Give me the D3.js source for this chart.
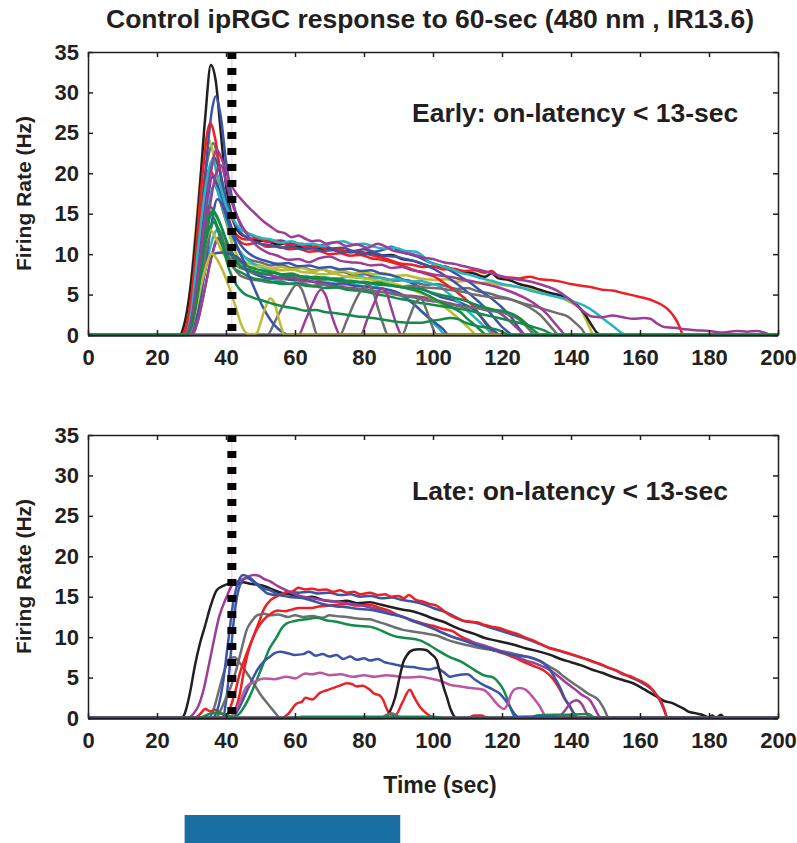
<!DOCTYPE html>
<html>
<head>
<meta charset="utf-8">
<script src="https://cdn.jsdelivr.net/npm/d3@7"></script>
<style>
  body { margin: 0; background: #fff; }
  svg { display: block; font-family: "Liberation Sans", Arial, sans-serif; font-weight: bold; }
  .axis path, .axis line { stroke: #231f20; stroke-width: 1.5; }
  .axis text { font-size: 22px; font-weight: bold; fill: #231f20; }
</style>
</head>
<body>
<div id="chart"></div>
<script>
// ---- data (time in s, firing rate in Hz) ----
const xTicks = [0, 20, 40, 60, 80, 100, 120, 140, 160, 180, 200];
const yTicks = [0, 5, 10, 15, 20, 25, 30, 35];
const dotTime = 41.7;            // dashed marker
const stimulus = [28, 90.5];     // blue light bar

// early cells (top panel)
const e01 = [[0,0],[26.5,0],[28,1.5],[30,7],[32,16],[34,27],[35.6,33.4],[37,31.5],[38.5,25],[40,18.5],[42,14.2],[44,12.6],[46,12.1],[49,11.7],[52,11.6],[55,11.2],[58,11.4],[61,10.9],[64,11.0],[67,10.6],[70,10.7],[73,10.3],[76,10.4],[79,10.1],[82,10.2],[85,9.8],[88,9.9],[91,9.4],[94,9.2],[97,8.8],[100,8.4],[103,8.5],[106,8.1],[109,7.8],[112,7.6],[115,7.2],[117,7.6],[119,7.0],[122,6.8],[125,6.3],[128,6.0],[131,5.6],[134,5.2],[137,4.9],[140,4.3],[142,3.6],[144,2.6],[146,1.2],[147.5,0.3],[148.5,0],[200,0]];
const e02 = [[0,0],[28,0],[30,2.5],[32,10],[34,20],[36,28],[37,29.5],[38.5,27],[40,21.5],[42,16.5],[44,13.8],[47,12.4],[50,12.0],[53,11.6],[56,11.7],[59,11.2],[62,11.3],[65,10.9],[68,11.1],[71,10.7],[74,10.8],[77,10.4],[80,10.6],[83,10.3],[86,10.6],[88,10.9],[90,10.4],[93,10.0],[96,9.6],[99,9.0],[102,8.6],[105,8.0],[108,7.2],[111,6.4],[114,5.4],[117,4.5],[120,3.4],[123,2.0],[125,0.8],[127,0],[200,0]];
const e03 = [[0,0],[27,0],[29,2],[31,9],[33,19],[35.4,26.2],[37,24],[39,18],[41,14],[43,12.4],[46,11.8],[49,12.0],[52,11.5],[55,11.6],[58,11.1],[61,11.2],[64,10.8],[67,10.9],[70,10.5],[73,10.6],[76,10.2],[79,10.3],[82,9.9],[85,9.6],[88,9.2],[91,8.8],[94,8.7],[97,8.4],[100,8.5],[103,8.1],[106,8.2],[109,7.9],[112,8.0],[115,7.7],[117,7.9],[119,7.3],[122,7.1],[125,7.0],[128,7.2],[131,6.9],[134,6.8],[137,6.6],[140,6.3],[143,6.1],[146,5.9],[149,5.6],[152,5.5],[155,5.2],[158,4.9],[161,4.6],[164,4.2],[166,3.8],[168,3.2],[170,2.2],[171.5,1.0],[172.5,0],[200,0]];
const e04 = [[0,0],[27,0],[29,3],[31,12],[33,21],[34.4,24.5],[36,23],[38,18],[40,14],[42,11],[44,9.4],[47,8.8],[50,8.6],[53,8.2],[56,8.4],[59,8.1],[62,8.3],[65,7.9],[68,8.1],[71,7.8],[74,7.9],[77,7.6],[80,7.8],[83,7.5],[86,7.6],[89,7.3],[92,7.4],[95,7.1],[98,6.9],[101,6.8],[104,6.9],[107,6.6],[110,6.7],[113,6.4],[116,6.5],[119,6.2],[122,6.1],[125,5.9],[128,5.7],[131,5.4],[134,5.1],[137,4.6],[140,4.0],[142.5,3.3],[144,2.2],[145.5,0.8],[146.5,0],[200,0]];
const e05 = [[0,0],[28,0],[30,4],[32,13],[34,20],[36.3,23.7],[38,21],[40,16],[42,12.5],[44,10.2],[47,9.3],[50,9.0],[53,8.6],[56,8.7],[59,8.3],[62,8.4],[65,8.0],[68,8.1],[71,7.7],[74,7.8],[77,7.4],[80,7.5],[83,7.2],[86,7.0],[89,6.7],[92,6.8],[95,6.5],[98,6.2],[101,6.3],[104,6.0],[107,5.7],[110,5.8],[113,5.4],[116,5.2],[119,4.8],[122,4.5],[125,4.0],[128,3.4],[131,2.5],[133,1.6],[135,0.6],[136.5,0],[200,0]];
const e06 = [[0,0],[28,0],[30,2],[32,8],[34,15],[36,21],[37.3,22.9],[39,21.5],[41,19],[43,17.5],[45,16.5],[47,15.6],[49,14.8],[51,14.0],[53,13.4],[55,12.8],[57,12.6],[59,12.1],[61,12.3],[63,11.9],[65,11.6],[67,11.7],[69,11.3],[72,11.5],[75,11.0],[78,11.2],[81,10.8],[84,11.3],[86,11.0],[88,10.5],[91,10.2],[94,10.0],[97,9.6],[100,9.4],[103,9.0],[106,8.8],[109,8.5],[112,8.2],[115,7.9],[118,7.5],[121,7.1],[124,6.9],[127,6.7],[130,6.4],[133,6.0],[136,5.5],[139,4.6],[142,3.5],[144,2.8],[146,2.3],[149,2.2],[152,2.4],[155,2.2],[158,2.0],[161,2.1],[163,2.0],[165,1.4],[167,1.0],[170,0.9],[173,0.7],[176,0.6],[180,0.5],[184,0.3],[188,0.5],[191,0.4],[194,0.5],[196,0.3],[198,0],[200,0]];
const e07 = [[0,0],[28,0],[30,3],[32,11],[34,18],[36,21.6],[38,19],[40,16],[42,14.3],[44,13.2],[47,12.5],[50,12.0],[53,11.8],[56,11.4],[59,11.6],[62,11.2],[65,11.3],[68,11.0],[71,11.4],[74,11.6],[77,11.2],[80,11.3],[83,10.9],[86,10.7],[89,10.8],[92,10.4],[95,10.3],[97,9.8],[99,9.0],[102,8.6],[105,8.2],[108,7.7],[111,7.4],[114,7.0],[117,6.7],[120,6.3],[123,6.1],[126,5.8],[129,5.4],[132,5.1],[135,4.8],[138,4.5],[141,4.1],[144,3.6],[147,2.8],[150,1.8],[152.5,1.0],[154.5,0.3],[156,0],[200,0]];
const e08 = [[0,0],[27.5,0],[29.5,3],[31.5,10],[33.5,17],[35,20.4],[37,19],[39,15.5],[41,13.2],[43,12],[46,11.2],[49,11.4],[52,10.9],[55,11.0],[58,10.6],[61,10.7],[64,10.3],[67,10.4],[70,10.0],[73,10.1],[76,9.8],[79,9.9],[82,9.5],[85,9.3],[88,9.0],[91,8.6],[94,8.1],[97,7.7],[100,7.3],[103,6.5],[106,5.6],[109,4.6],[112,3.4],[114,2.2],[116,1.0],[118,0],[200,0]];
const e09 = [[0,0],[29,0],[31,3],[33,9],[35,15],[37,19.8],[38.5,21],[40,19],[42,16],[44,14],[46,12.5],[49,11.0],[52,10.2],[55,9.8],[58,9.3],[61,9.4],[64,9.0],[67,9.5],[70,9.7],[73,9.2],[76,9.0],[79,8.9],[82,8.6],[85,8.7],[88,8.3],[91,8.4],[94,8.0],[97,7.8],[100,7.5],[103,7.3],[106,7.1],[109,6.8],[112,6.6],[115,6.3],[118,6.0],[121,5.6],[124,5.1],[127,4.5],[130,3.7],[133,2.6],[135,1.6],[137,0.6],[138.5,0],[200,0]];
const e10 = [[0,0],[28.5,0],[30.5,3],[32.5,10],[34.5,16],[36,19.5],[38,18],[40,15],[42,12.8],[44,11.3],[46,10.3],[49,9.5],[52,9.1],[55,8.8],[58,8.9],[61,8.5],[64,8.6],[67,8.3],[70,8.4],[73,8.1],[76,8.2],[79,7.9],[82,8.0],[85,7.6],[88,7.4],[91,6.9],[94,6.4],[97,5.7],[100,5.1],[103,4.6],[106,4.3],[109,3.8],[112,3.1],[114,2.2],[116,1.2],[118,0.4],[119.5,0],[200,0]];
const e11 = [[0,0],[28.5,0],[30.5,2],[32.5,8],[34.5,15],[36.5,18.5],[38.5,16.5],[40,14.2],[42,12],[44,10.4],[46,9.4],[48,8.8],[51,8.2],[54,7.8],[57,7.4],[60,7.2],[63,7.3],[66,7.0],[69,7.1],[72,6.9],[75,7.2],[78,7.3],[81,7.0],[84,7.1],[87,6.8],[90,6.9],[93,6.6],[96,6.7],[99,6.4],[102,6.0],[104,5.3],[106,4.6],[108,3.8],[110,3.0],[112,2.2],[114,1.4],[116,0.6],[117.5,0],[200,0]];
const e12 = [[0,0],[28,0],[30,2],[32,8],[34,14],[35,16],[37,15],[39,13],[41,10.5],[43,9],[45,8.3],[48,7.9],[51,7.6],[54,7.7],[57,7.3],[60,7.4],[63,7.1],[66,7.2],[69,6.9],[72,7.0],[75,6.7],[78,6.6],[81,6.4],[84,6.5],[87,6.2],[90,6.0],[93,5.7],[96,5.4],[99,4.8],[102,4.1],[105,3.5],[108,2.8],[110,2.0],[112,1.3],[114,0.5],[115.5,0],[200,0]];
const e13 = [[0,0],[28.5,0],[30.5,2],[32.5,7],[34.5,13],[35.5,15],[37,14],[39,11],[41,8],[43,6.2],[45,5.2],[48,4.6],[51,4.2],[54,3.8],[57,3.5],[60,3.3],[63,3.0],[66,3.1],[69,2.8],[72,2.7],[75,2.5],[78,2.3],[81,2.2],[84,2.0],[87,1.8],[90,1.6],[93,1.5],[96,1.5],[99,1.7],[102,1.9],[105,2.1],[107,2.0],[109,1.6],[111,1.3],[113,1.1],[116,0.9],[119,0.6],[121,0.2],[122,0],[200,0]];
const e14 = [[0,0],[29,0],[31,2],[33,7],[35,12],[36.5,13.9],[38,13],[40,10.5],[42,8.5],[44,7.4],[47,6.9],[50,6.7],[53,6.5],[56,6.6],[59,6.3],[62,6.4],[65,6.1],[68,6.2],[71,5.9],[74,5.8],[77,5.6],[80,5.7],[83,5.4],[86,5.3],[89,5.0],[92,4.8],[95,4.6],[98,4.3],[101,4.1],[104,3.8],[107,3.6],[110,3.4],[113,3.3],[116,3.0],[119,2.9],[122,2.5],[125,1.9],[127,1.1],[128.5,0.4],[130,0],[200,0]];
const e15 = [[0,0],[29,0],[31,2],[33,6],[35,9.5],[37,10.1],[39,10.2],[41,10.0],[43,9.7],[45,8.8],[47,7.0],[49,5.0],[51,3.2],[53,1.8],[55,0.8],[57,0.2],[58,0],[200,0]];
const e16 = [[0,0],[29,0],[31,2.5],[33,6.5],[35,9.5],[35.8,10.1],[37,9.6],[39,8.0],[41,5.8],[43,3.2],[44.5,1.2],[46,0.2],[47.5,0],[49,0.3],[50,1.5],[51.5,3.5],[52.8,4.5],[54,4.0],[55,2.5],[56,1.0],[57,0],[200,0]];
const e17 = [[0,0],[52,0],[54,1.5],[56,3.2],[58,4.8],[60.5,6.2],[62,5.6],[63.5,3.8],[65,1.8],[66.5,0],[200,0]];
const e18 = [[0,0],[61,0],[63,1.8],[65,3.8],[67.5,5.6],[69,4.8],[70.5,2.6],[72,0.8],[73,0],[200,0]];
const e19 = [[0,0],[73,0],[75,1.8],[77,3.8],[79,5.4],[81,6.2],[82.5,5.5],[84,3.4],[85.5,1.4],[87,0],[200,0]];
const e20 = [[0,0],[79,0],[81,2],[83,4],[85,5.8],[86.5,5.2],[88,3.2],[89.5,1.2],[91,0],[200,0]];
const e21 = [[0,0],[91,0],[93,2],[95,4],[96.5,4.5],[98,3.2],[99.5,1.4],[101,0],[200,0]];
const e22 = [[0,0],[29.5,0],[31.5,2],[33.5,7],[35.5,13],[37.5,16.8],[39,16],[41,13.5],[43,11.2],[45,9.3],[47,8.0],[50,7.3],[53,7.0],[56,7.1],[59,6.8],[62,6.9],[65,6.6],[68,6.5],[71,6.3],[74,6.4],[77,6.1],[80,6.0],[83,5.8],[86,5.7],[89,5.4],[91,5.0],[93,4.3],[95,3.6],[97,2.8],[99,2.1],[101,1.4],[103,0.7],[104.5,0],[200,0]];
const e23 = [[0,0],[28.5,0],[30.5,2],[32.5,8],[34.5,13],[36,15.3],[38,14],[40,11.8],[42,10],[44,9.1],[47,8.4],[50,8.0],[53,7.8],[56,7.5],[59,7.6],[62,7.2],[65,7.0],[68,7.1],[71,6.8],[74,6.7],[77,6.5],[80,6.6],[82,6.4],[85,6.2],[88,6.1],[91,5.9],[94,5.8],[97,5.6],[100,5.2],[103,4.9],[106,4.6],[109,4.3],[112,3.8],[115,3.4],[118,3.1],[121,2.9],[124,2.4],[126,1.8],[128,1.0],[130,0.3],[131,0],[200,0]];
const e24 = [[0,0],[30,0],[32,2],[34,6],[36,10],[37.5,12],[39,11],[41,9.5],[43,8.6],[46,8.0],[49,7.6],[52,7.5],[55,7.2],[58,7.3],[61,7.0],[64,7.1],[67,6.8],[70,6.9],[73,6.6],[76,6.7],[79,6.5],[82,6.4],[85,6.2],[88,6.3],[91,6.0],[94,6.1],[97,5.9],[100,5.8],[103,5.7],[106,5.5],[109,5.3],[112,5.0],[115,4.8],[118,4.6],[121,4.5],[124,4.2],[127,3.8],[130,3.5],[133,3.1],[136,2.7],[139,2.3],[141,1.6],[143,0.8],[144.5,0],[200,0]];
const e25 = [[0,0],[28.5,0],[30.5,3],[32.5,11],[34.5,18],[36.5,22],[38,20.5],[40,17],[42,14.4],[44,12.8],[47,11.8],[50,11.3],[53,11.1],[56,10.8],[59,10.9],[62,10.6],[65,10.7],[68,10.4],[71,10.5],[74,10.2],[77,10.3],[80,10.0],[83,10.1],[86,9.8],[89,9.7],[92,9.4],[95,9.1],[98,8.6],[101,8.0],[104,7.2],[107,6.3],[110,5.3],[113,4.2],[116,3.0],[118,2.0],[120,1.0],[122,0.3],[123,0],[200,0]];
const e26 = [[0,0],[30,0],[32,2],[34,6],[36,10],[38,12],[40,11],[42,9.5],[44,8.6],[47,8.0],[50,7.6],[53,7.4],[56,7.0],[59,7.1],[62,6.7],[65,6.6],[68,6.3],[71,6.1],[74,5.9],[77,5.8],[80,5.6],[83,5.4],[86,5.3],[89,5.1],[92,4.9],[95,4.8],[98,4.6],[101,4.3],[104,4.0],[107,3.7],[110,3.5],[113,3.4],[116,3.2],[119,2.8],[121,2.2],[123,1.4],[125,0.6],[126.5,0],[200,0]];
const e27 = [[0,0],[29.5,0],[31.5,2],[33.5,7],[35.5,11],[37.5,13],[39.5,12],[41.5,10.4],[43.5,9.0],[46,8.0],[49,7.4],[52,7.0],[55,6.8],[58,6.9],[61,6.6],[64,6.7],[67,6.4],[70,6.5],[73,6.2],[76,6.3],[79,6.1],[82,6.0],[85,5.8],[88,5.4],[91,4.8],[94,4.0],[96,3.2],[98,2.4],[100,1.5],[102,0.7],[103.5,0],[200,0]];
const e28 = [[0,0],[28.5,0],[30.5,2],[32.5,8],[34.5,12],[35.5,13],[37,12],[39,10.2],[41,9.1],[44,8.6],[47,8.4],[50,8.5],[53,8.2],[56,8.0],[59,8.1],[62,7.8],[65,7.7],[68,7.5],[71,7.6],[74,7.3],[77,7.1],[80,7.0],[83,6.8],[86,6.6],[89,6.3],[92,5.9],[95,5.4],[98,4.9],[101,4.3],[103,3.6],[105,2.9],[107,2.2],[109,1.4],[111,0.6],[112.5,0],[200,0]];
const e29 = [[0,0],[29,0],[31,3],[33,9],[35,13],[36.5,14],[38,12.5],[40,10],[42,8.4],[45,7.6],[48,7.0],[51,6.8],[54,6.5],[57,6.3],[60,6.4],[63,6.1],[66,6.0],[69,5.8],[72,5.9],[75,5.6],[78,5.5],[81,5.3],[84,5.0],[87,4.8],[90,4.5],[93,4.3],[96,4.0],[99,3.8],[102,3.6],[105,3.4],[108,3.2],[111,3.0],[114,2.6],[117,2.3],[120,2.0],[123,1.7],[126,1.4],[129,1.0],[132,0.6],[134,0.2],[135,0],[200,0]];

const earlySeries = [e05, e04, e01, e02, e03, e08, e10, e25, e07, e11, e27, e22, e24, e26, e14, e28, e12, e23, e29, e17, e18, e19, e20, e21, e15, e16, e09, e06, e13];
const earlyColors = ["gy","y","k","b","r","r","b","b","c","c","c","b","gy","p","gy","y","g","g","g","gy","p","gy","p","gy","b","y","p","p","g"];

// late cells (bottom panel)
const l01 = [[0,0],[27,0],[28,0.5],[29.5,3],[31,6.5],[32.5,9.3],[34,11.5],[35.5,13.8],[37.3,15.8],[39,16.3],[41,16.6],[43,16.5],[45,16.8],[47,16.6],[49,16.5],[51.8,16.2],[54,15.8],[56,15.5],[59.5,15.2],[62,14.9],[65,15.0],[68,14.6],[72,14.4],[75,14.5],[78,14.2],[81.7,14.3],[85,14.0],[88,13.7],[91.3,13.4],[94,13.2],[97,12.8],[100,12.3],[103,11.9],[106,11.3],[109,10.8],[112,10.4],[115,9.9],[118,9.6],[121,9.3],[124,9.0],[127,8.6],[130,8.3],[134,7.8],[137,7.3],[140,6.9],[143,6.5],[146,6.0],[149,5.6],[152,5.1],[155,4.7],[158,4.3],[161,3.6],[163,3.1],[165,2.6],[167,2.1],[169,1.9],[171,1.5],[172.5,1.2],[174,0.8],[176,0.6],[178,0.4],[180,0.1],[181,0.3],[182,0],[183.5,0.4],[184.5,0],[200,0]];
const l02 = [[0,0],[39,0],[40,2],[41,6],[42,11],[43,14.5],[44.5,16.8],[46,17.3],[48,16.8],[50,16.1],[52,15.4],[55,15.2],[58,15.6],[61,15.5],[64,15.6],[67,15.4],[70,15.5],[73,15.2],[76,15.3],[79,15.0],[82,15.1],[85,14.8],[88,14.9],[91,14.6],[94,14.4],[97,14.1],[100,13.6],[103,13.2],[106,12.6],[109,12.0],[112,11.8],[115,11.4],[118,11.0],[121,10.6],[124,10.2],[127,9.8],[130,9.3],[133,8.8],[136,8.4],[139,8.0],[142,7.6],[145,7.2],[148,6.7],[151,6.2],[154,5.7],[157,5.1],[160,4.5],[162,4.0],[164,3.3],[165.5,2.4],[167,1.0],[168,0],[200,0]];
const l03 = [[0,0],[40,0],[41,1],[42.5,3],[44,5.5],[46,8],[47.5,9.6],[49.5,11.8],[51,13.5],[53,14.6],[55.5,15.2],[57.5,15.5],[59.5,15.7],[61,16.1],[63,15.9],[65,16.0],[67,15.8],[69,15.9],[71,15.6],[73,15.8],[75,15.5],[77,15.6],[79,15.3],[81.7,15.5],[84,15.2],[86,15.3],[88,15.0],[90,15.1],[91.5,14.8],[93,15.2],[95,14.6],[97,14.4],[99,14.1],[101,13.9],[103,13.3],[105,12.7],[107,12.3],[109,12.0],[111,11.9],[113,11.8],[115,11.5],[117,11.3],[119.4,11.1],[122,10.7],[125,10.3],[127,9.9],[129,9.6],[131,9.2],[134,8.6],[137,8.3],[140,7.9],[143.6,7.4],[146,7.0],[149,6.6],[151,6.2],[153,5.9],[155,5.4],[157,5.2],[159,4.8],[161,4.4],[163,3.8],[164.5,3.0],[166,2.2],[167,1.1],[168,0],[200,0]];
const l04 = [[0,0],[36,0],[37.5,1],[39,4],[40.5,9],[42,14],[43.5,16.8],[45,17.7],[47,17.3],[49,16.6],[51,16.0],[52.8,15.8],[55,15.3],[58,15.0],[62.4,14.8],[65,14.5],[68,14.1],[72,13.8],[75,13.7],[78,13.5],[81.7,13.4],[85,13.1],[88,12.8],[91.3,12.5],[94,12.0],[97,11.6],[101,10.9],[104,10.3],[108.7,9.6],[112,9.1],[115,8.7],[119.4,8.2],[122,7.9],[125,7.7],[129,7.4],[132,6.8],[134,5.9],[135.5,4.8],[136.8,3.8],[138,2.6],[139.7,1.4],[141,0.5],[142,0],[200,0]];
const l05 = [[0,0],[29,0],[30.5,0.5],[32,1.5],[33.5,3.5],[35,6.5],[36.3,9.2],[38,12.5],[40.2,15],[42,16.6],[44,17.0],[46,17.4],[48,17.7],[49.5,17.6],[51,17.2],[52.8,16.9],[55,16.3],[58,15.7],[60,15.3],[62.4,15.0],[65,14.8],[68,14.6],[72,14.4],[75,14.2],[78,14.0],[81.7,13.7],[85,13.3],[88,12.9],[91.3,12.5],[95,11.9],[98,11.4],[101,10.9],[103,10.5],[105.8,10.0],[109,9.6],[111,9.4],[114.6,9.0],[118,8.5],[121,8.1],[124,7.6],[127,7.1],[130,6.7],[134,5.9],[136.5,5.1],[138.8,4.3],[141,3.6],[143,2.9],[145.5,2.2],[147,1.1],[148,0.3],[149,0],[200,0]];
const l06 = [[0,0],[37,0],[38.5,1],[40,2.5],[41.5,4],[43,6],[44.5,8.5],[46,10.9],[47.5,12.0],[49,12.7],[51,12.9],[52.8,12.7],[55,12.8],[58,12.5],[60,12.7],[62.4,12.5],[65,12.6],[68,12.4],[70,12.7],[72,12.6],[75,12.5],[78,12.3],[81.7,12.2],[84,11.9],[87,11.5],[89,11.2],[91.3,10.9],[94,10.7],[97,10.5],[101,10.2],[104,9.7],[107,9.3],[110,9.0],[113,8.7],[116,8.5],[119.4,8.3],[122,8.1],[125,7.8],[128,7.5],[131,7.0],[134,6.3],[136,5.8],[138,5.1],[140.6,4.3],[143,3.6],[145,3.0],[148,2.2],[149.5,1.2],[151,0],[200,0]];
const l07 = [[0,0],[40.5,0],[42,0.2],[43.5,0.4],[45,1.2],[47,2.8],[49,4.8],[50.9,6.8],[52.5,8.5],[54.7,10.0],[56,11.0],[57.6,11.7],[60,12.0],[63,12.2],[66.3,12.4],[69,12.1],[72,11.9],[75,11.6],[78,11.4],[81.7,11.3],[84,11.0],[86.6,10.5],[89,10.1],[92,9.9],[96.2,9.6],[99,9.0],[102,8.2],[105,7.5],[108,7.0],[110.7,6.3],[112.5,5.8],[114.6,5.3],[117.5,5.0],[119,4.4],[120.4,3.5],[121.5,2.4],[122.3,1.4],[123.2,0.5],[124,0],[200,0]];
const l08 = [[0,0],[41,0],[42.5,0.8],[44,3],[45.5,6.5],[47,9],[49,11.0],[51,12.2],[53,12.9],[55,13.3],[57,13.2],[59,13.4],[61,13.6],[64.3,13.6],[67,13.8],[70,13.9],[72,14.0],[75,14.1],[78,13.9],[81.7,14.0],[84,13.7],[87,13.3],[89,12.9],[91,12.5],[94,12.1],[97,11.7],[100,11.4],[103,11.0],[105.8,10.7],[108,10.1],[111,9.5],[114.6,8.8],[118,8.3],[121,7.9],[124,7.4],[127,6.8],[130,6.3],[132,5.9],[134,5.2],[135.5,4.4],[136.8,3.5],[138,2.5],[139.7,1.4],[140.8,0.5],[141.6,0],[200,0]];
const l09 = [[0,0],[41,0],[42.5,0.4],[44,1.4],[45.5,2.8],[47,4.2],[49,5.9],[51,7.0],[52.8,7.6],[54,8.0],[55.7,8.2],[58,8.0],[60,7.8],[62.4,7.9],[64,8.2],[66,7.7],[68,7.9],[70,7.6],[72,7.8],[74,7.3],[76,7.6],[78,7.2],[80,7.4],[81.7,7.1],[84,7.3],[86,6.9],[88,6.7],[91.3,6.4],[94,6.3],[97,6.1],[99,6.0],[101,6.2],[103,5.7],[105,5.1],[107,5.3],[110,5.4],[112,4.8],[114.6,4.1],[117,3.6],[119.4,3.0],[121,2.2],[122.3,1.4],[123.5,0.6],[125,0],[200,0]];
const l10 = [[0,0],[41,0],[42.5,0.6],[44,2],[46,3.9],[48,4.4],[51,4.9],[54,4.8],[57.6,5.1],[60,4.9],[63,5.5],[65,5.4],[67.2,5.6],[70,5.3],[73,5.4],[76.9,5.1],[80,5.3],[83,5.1],[86.6,5.3],[89,5.2],[92,5.0],[96.2,5.1],[99,4.9],[102,4.6],[105,4.1],[108,3.9],[111,3.7],[114.6,3.5],[116.5,2.8],[118,2.0],[119.4,1.4],[120.5,1.1],[121.5,1.6],[122.5,2.8],[123.5,3.5],[125,3.7],[126.8,3.5],[128.5,2.8],[130,2.0],[131,1.4],[132,0.6],[133,0],[200,0]];
const l11 = [[0,0],[35,0],[36.5,1.2],[38,3.5],[39.5,5.8],[41.2,7.4],[42.5,7.5],[44,6.8],[46,5.6],[48,4.3],[50,2.9],[52.8,1.4],[54.5,0.5],[55.7,0],[200,0]];
const l12 = [[0,0],[56,0],[58,0.5],[60.5,1.8],[62,2.0],[63,2.5],[65,2.3],[67.2,3.1],[69,3.4],[71,3.7],[73,4.0],[75,4.3],[76.5,4.2],[78,3.9],[79.5,4.0],[81.7,3.5],[83,3.0],[84.5,2.8],[85.6,2.2],[86.5,1.2],[87.5,0.5],[89,0.3],[91,1.8],[93.3,3.5],[94.5,2.6],[96.2,1.4],[98,0.6],[100,0.1],[101,0],[110,0],[112,0.3],[114,0.3],[116,0],[200,0]];
const l13 = [[0,0],[86,0],[87.5,0.8],[89,2.5],[90.3,5.0],[91.3,6.8],[92.5,7.8],[94.2,8.4],[96,8.5],[98,8.4],[99.5,7.9],[101,7.2],[102,5.6],[103,3.9],[104,2.6],[105,1.2],[106,0.3],[106.5,0],[200,0]];
const l14 = [[0,0],[31,0],[32.5,0.5],[34,1.1],[35.5,0.8],[37,1.0],[38.5,0.6],[40,0.2],[41,0],[200,0]];
const l15 = [[0,0],[32,0],[34,0.3],[36,0.6],[38,0.6],[40,0.4],[42,0.1],[43,0],[60,0],[62,0.15],[100,0.15],[104,0],[128,0],[130,0.3],[135,0.4],[140,0.4],[145,0.5],[147,0],[200,0]];
const l16 = [[0,0],[136,0],[138,0.8],[140,1.9],[141.5,2.2],[143,1.8],[144.5,0.6],[145.5,0],[200,0]];
const l17 = [[0,0],[85,0],[86.5,0.4],[88,0.6],[89.5,0.3],[91,0],[200,0]];
const l18 = [[0,0],[120,0],[125,0.15],[130,0.2],[135,0.15],[137,0],[200,0]];

const lateSeries = [l11, l14, l01, l02, l03, l06, l08, l05, l04, l07, l09, l10, l12, l13, l16, l17, l15, l18];
const lateColors = ["gy","r","k","b","r","gy","r","p","b","g","b","m","r","k","p","gy","g","b"];

const palette = {
  k: "#231f20", b: "#3b55a5", r: "#ed2024", p: "#9c3e96", m: "#bd55a7",
  c: "#27b4c2", g: "#128c48", y: "#bcbd35", gy: "#6d6e71"
};

// ---- layout ----
const W = 797, H = 843;
const x = d3.scaleLinear().domain([0, 200]).range([88, 778]);

const svg = d3.select("#chart").append("svg")
  .attr("width", W).attr("height", H);

svg.append("text")
  .attr("x", 430).attr("y", 28)
  .attr("text-anchor", "middle")
  .attr("font-size", 26.5)
  .attr("fill", "#231f20")
  .text("Control ipRGC response to 60-sec (480 nm , IR13.6)");

function drawPanel(top, bottom, series, colors, note, noteY) {
  const y = d3.scaleLinear().domain([0, 35]).range([bottom, top]);
  const g = svg.append("g");

  // faint pink guide under the dashed marker
  g.append("line")
    .attr("x1", x(dotTime)).attr("x2", x(dotTime))
    .attr("y1", top).attr("y2", bottom)
    .attr("stroke", "#f5c3d2").attr("stroke-width", 1);

  const line = d3.line()
    .x(d => x(d[0]))
    .y(d => y(d[1]))
    .curve(d3.curveMonotoneX);

  g.append("g").selectAll("path")
    .data(series)
    .join("path")
    .attr("d", line)
    .attr("fill", "none")
    .attr("stroke", (d, i) => palette[colors[i]])
    .attr("stroke-width", 2.5)
    .attr("stroke-linejoin", "round");

  // dashed stimulus marker
  g.append("line")
    .attr("x1", x(dotTime)).attr("x2", x(dotTime))
    .attr("y1", top).attr("y2", bottom)
    .attr("stroke", "#000").attr("stroke-width", 9)
    .attr("stroke-dasharray", "7 9");

  // box axes, ticks inward
  g.append("g").attr("class", "axis")
    .attr("transform", `translate(0,${bottom})`)
    .call(d3.axisBottom(x).tickValues(xTicks).tickSize(-5).tickSizeOuter(0).tickPadding(14));
  g.append("g").attr("class", "axis")
    .attr("transform", `translate(0,${top})`)
    .call(d3.axisTop(x).tickValues(xTicks).tickSize(-5).tickSizeOuter(0).tickFormat(""));
  g.append("g").attr("class", "axis")
    .attr("transform", `translate(${x(0)},0)`)
    .call(d3.axisLeft(y).tickValues(yTicks).tickSize(-5).tickSizeOuter(0).tickPadding(9));
  g.append("g").attr("class", "axis")
    .attr("transform", `translate(${x(200)},0)`)
    .call(d3.axisRight(y).tickValues(yTicks).tickSize(-5).tickSizeOuter(0).tickFormat(""));

  g.append("text")
    .attr("transform", `translate(31,${(top + bottom) / 2}) rotate(-90)`)
    .attr("text-anchor", "middle")
    .attr("font-size", 21)
    .attr("fill", "#231f20")
    .text("Firing Rate (Hz)");

  g.append("text")
    .attr("x", 412).attr("y", noteY)
    .attr("font-size", 26.5)
    .attr("fill", "#231f20")
    .text(note);
}

drawPanel(52, 335, earlySeries, earlyColors, "Early: on-latency < 13-sec", 122);
drawPanel(435, 718, lateSeries, lateColors, "Late: on-latency < 13-sec", 500);

svg.append("text")
  .attr("x", 440).attr("y", 793)
  .attr("text-anchor", "middle")
  .attr("font-size", 23)
  .attr("fill", "#231f20")
  .text("Time (sec)");

svg.append("rect")
  .attr("x", x(stimulus[0]))
  .attr("width", x(stimulus[1]) - x(stimulus[0]))
  .attr("y", 815).attr("height", 28)
  .attr("fill", "#1a6fa2");
</script>
</body>
</html>
